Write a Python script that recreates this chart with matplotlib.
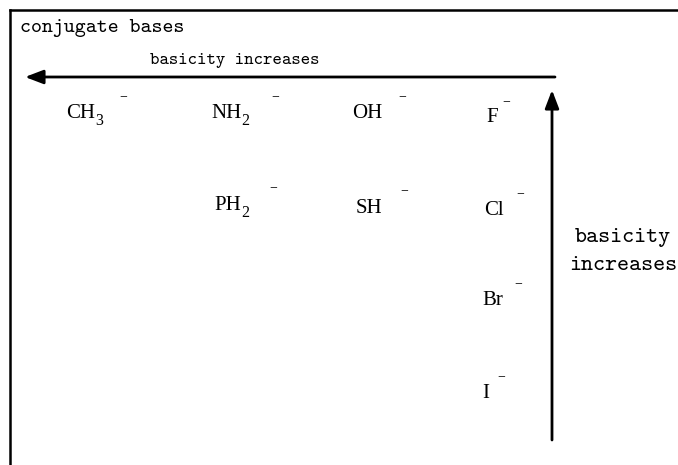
import matplotlib
matplotlib.use("Agg")
import matplotlib.pyplot as plt

# ---- data ----
title = "conjugate bases"
horiz_label = "basicity increases"
vert_label = "basicity\nincreases"
ion_names = ["CH", "NH", "OH", "F", "PH", "SH", "Cl", "Br", "I"]
ion_subscripts = ["3", "2", "", "", "2", "", "", "", ""]
ion_charges = ["\u2212"] * 9

# ---- layout (pixel coordinates, y downward) ----
# (x_left, baseline, charge_x, charge_y)
layout = [
    (66, 118, 123, 97),
    (211, 118, 275, 97),
    (352, 118, 402, 97),
    (486, 122, 506, 102),
    (214, 210, 273, 188),
    (356, 213, 404, 191),
    (484, 215, 520, 194),
    (482, 305, 518, 284),
    (482, 398, 501, 377),
]

W, H = 678, 465
fig = plt.figure(figsize=(W / 100, H / 100), dpi=100)
ax = fig.add_axes([0, 0, 1, 1])
ax.set_xlim(0, W)
ax.set_ylim(H, 0)
ax.axis("off")

mono = ["cmtt10", "Liberation Mono"]
serif = ["Liberation Serif", "DejaVu Serif"]

# border (top and left)
ax.plot([9.5, W + 5], [9.7, 9.7], color="black", lw=1.8, solid_capstyle="projecting")
ax.plot([9.5, 9.5], [9.7, H + 5], color="black", lw=1.8, solid_capstyle="projecting")

ax.text(20, 32, title, family=mono, fontsize=15, ha="left", va="baseline")
ax.text(235, 64, horiz_label, family=mono, fontsize=12.9, ha="center", va="baseline")
for i, line in enumerate(vert_label.split("\n")):
    ax.text(623, 242 + 28 * i, line, family=mono, fontsize=16.5, ha="center", va="baseline")

arrow = dict(arrowstyle="-|>,head_length=1.1,head_width=0.42", lw=2,
             color="black", mutation_scale=10, shrinkA=0, shrinkB=0)
ax.annotate("", xy=(25, 77), xytext=(555, 77), arrowprops=arrow)
ax.annotate("", xy=(552, 90), xytext=(552, 440), arrowprops=arrow)

main_fs = 15
sub_fs = 11.5
for name, sub, chg, (x, yb, cx, cy) in zip(ion_names, ion_subscripts, ion_charges, layout):
    t = ax.text(x, yb, name, family=serif, fontsize=main_fs, ha="left", va="baseline")
    if sub:
        ax.annotate(sub, xy=(1, 0), xycoords=t, xytext=(0, -1.5), textcoords="offset pixels",
                    family=serif, fontsize=sub_fs, ha="left", va="baseline")
    ax.text(cx, cy + 3.5, chg, family=serif, fontsize=10, ha="center", va="baseline")

fig.savefig("out.png", dpi=100)
